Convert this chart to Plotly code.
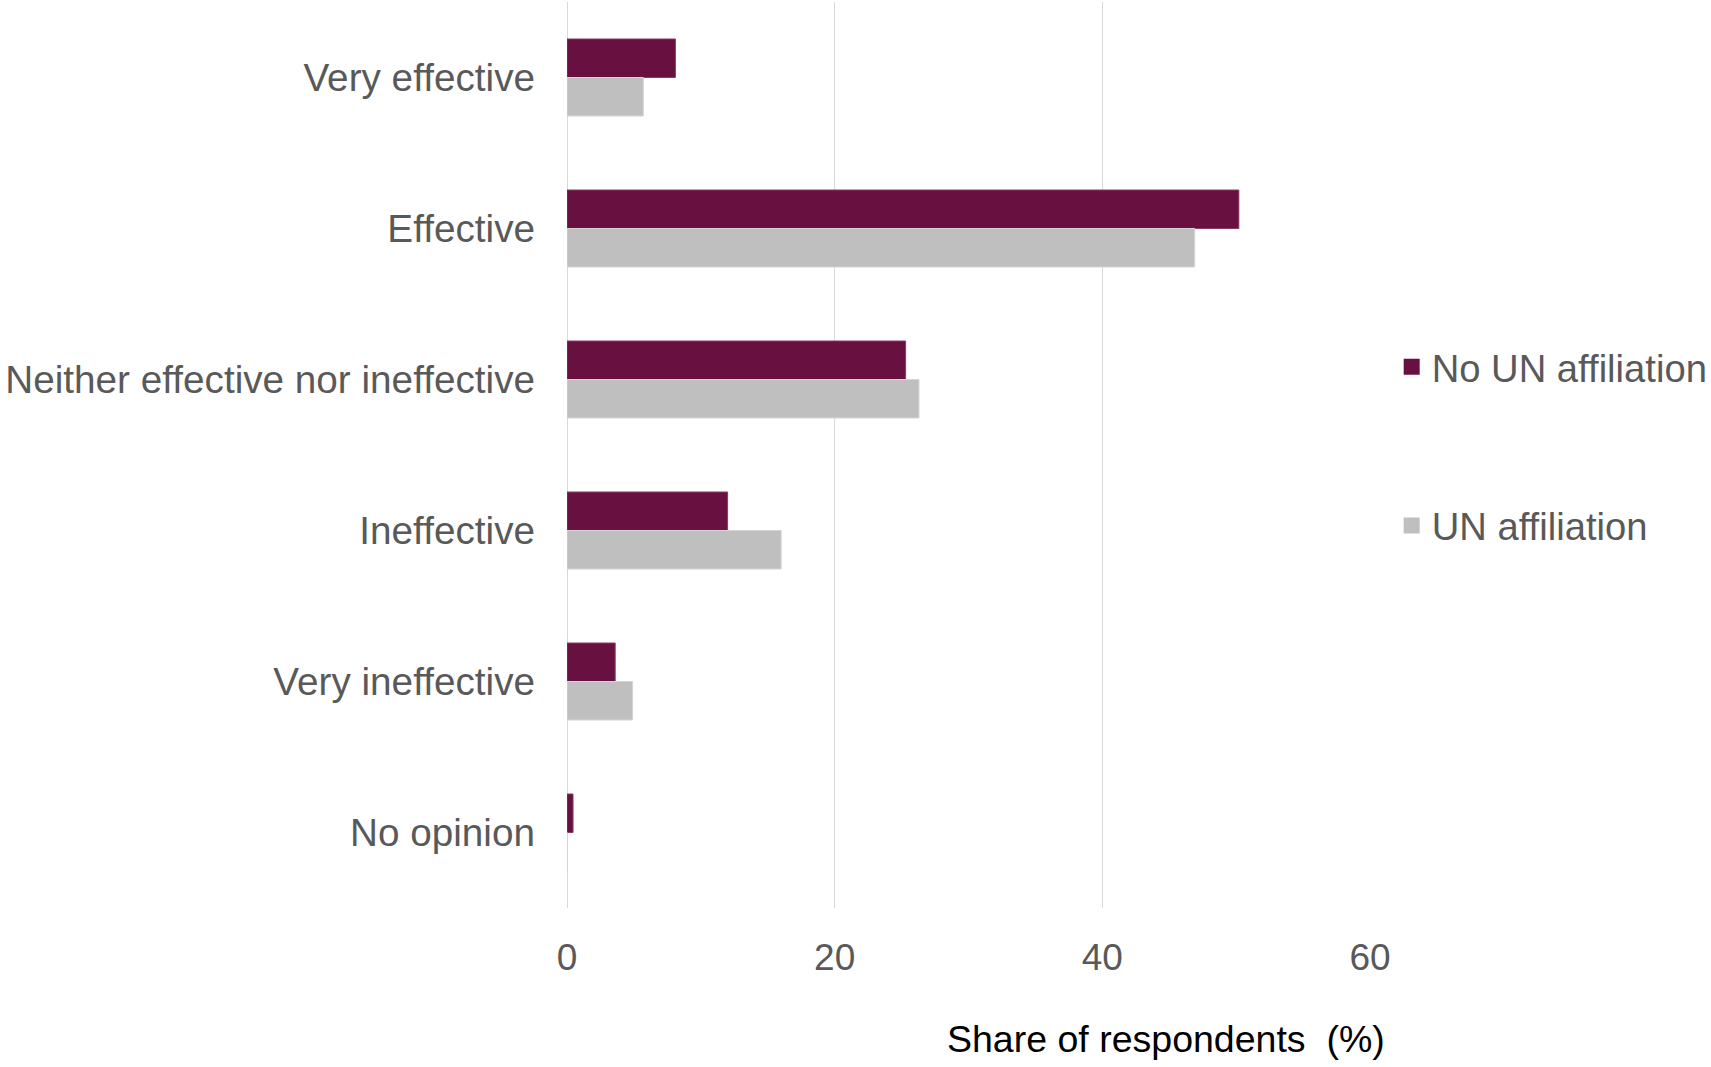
import plotly.graph_objects as go

categories = ["Very effective", "Effective", "Neither effective nor ineffective",
              "Ineffective", "Very ineffective", "No opinion"]
no_un = [8.1, 50.2, 25.3, 12.0, 3.6, 0.45]
un = [5.7, 46.9, 26.3, 16.0, 4.9, 0.0]
series_names = ["No UN affiliation", "UN affiliation"]
x_ticks = [0, 20, 40, 60]

PURPLE = "#68103F"
GREY = "#BFBFBF"
FONT = "Arial, Liberation Sans, sans-serif"

W, H = 1711, 1067
L, R, T, B = 567, 341, 2, 159

fig = go.Figure()
fig.add_trace(go.Bar(y=categories, x=no_un, orientation="h", name=series_names[0],
                     marker=dict(color=PURPLE, line=dict(color="#8a3a63", width=1)),
                     legendgroup="a", showlegend=False))
fig.add_trace(go.Bar(y=categories, x=un, orientation="h", name=series_names[1],
                     marker=dict(color=GREY, line=dict(color="#d4d4d4", width=1)),
                     legendgroup="b", showlegend=False))
# legend entries with larger square symbols
for nm, col, grp in [(series_names[0], PURPLE, "a"), (series_names[1], GREY, "b")]:
    fig.add_trace(go.Scatter(x=[None], y=[None], mode="markers", name=nm,
                             marker=dict(symbol="square", size=16, color=col),
                             legendgroup=grp, showlegend=True))

fig.update_layout(
    width=W, height=H,
    margin=dict(l=L, r=R, t=T, b=B, pad=0, autoexpand=False),
    plot_bgcolor="white", paper_bgcolor="white",
    barmode="group", bargap=0.49, bargroupgap=0,
    font=dict(family=FONT, size=38.7, color="#595959"),
    legend=dict(x=1.027, xanchor="left", y=0.632, yanchor="top",
                font=dict(size=38.2, color="#595959"),
                tracegroupgap=106, bgcolor="rgba(0,0,0,0)"),
    xaxis=dict(range=[0, 60], tickvals=x_ticks, showgrid=True, gridcolor="#D9D9D9",
               gridwidth=1, zeroline=True, zerolinecolor="#D9D9D9", zerolinewidth=1,
               showline=False, ticks="", tickfont=dict(size=37, color="#595959"),
               ticklabelstandoff=24, automargin=False),
    yaxis=dict(autorange="reversed", showgrid=False, zeroline=False, showline=False,
               ticks="", tickfont=dict(size=38.7, color="#595959"),
               ticklabelstandoff=31, automargin=False),
    annotations=[dict(text="Share of respondents  (%)", xref="paper", yref="paper",
                      x=0.7457, y=-0.1446, xanchor="center", yanchor="middle",
                      showarrow=False, font=dict(size=37.5, color="black", family=FONT))],
)

fig.write_html("out.html", config={"displayModeBar": False},
               post_script="document.body.style.margin='0';document.body.style.overflow='hidden';")
